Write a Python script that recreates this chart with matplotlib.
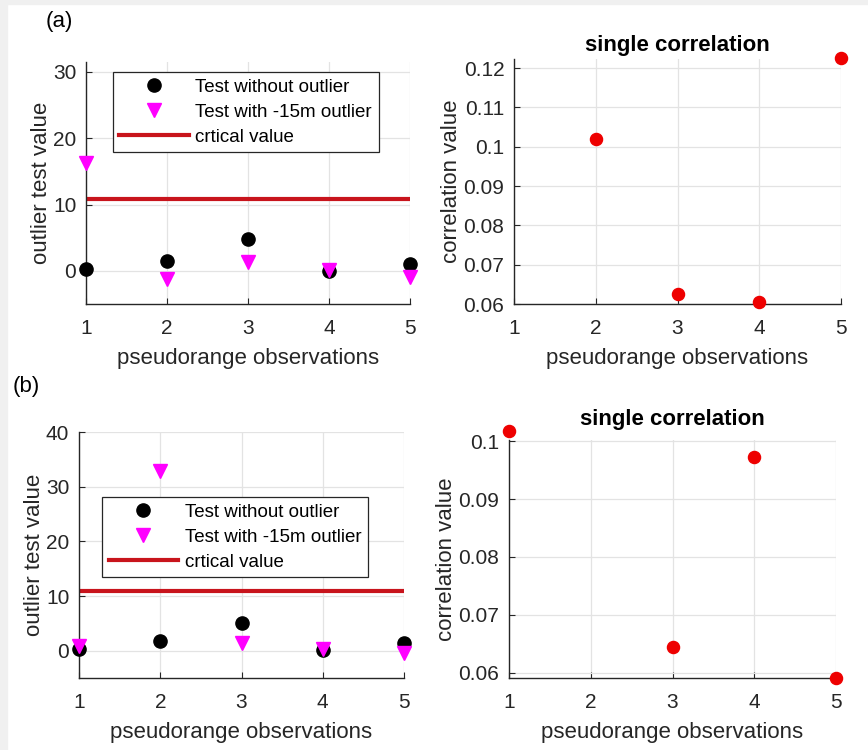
import matplotlib.pyplot as plt
from matplotlib.patches import Rectangle
from matplotlib.ticker import FormatStrFormatter
import numpy as np

plt.rcParams['font.family'] = ['Liberation Sans', 'DejaVu Sans']

obs = [1, 2, 3, 4, 5]

# panel (a)
a_without = [0.3, 1.5, 4.8, 0.0, 1.0]
a_with = [16.3, -1.2, 1.3, 0.1, -0.9]
a_crit = 10.8
a_corr_x = [2, 3, 4, 5]
a_corr = [0.102, 0.0625, 0.0606, 0.1225]

# panel (b)
b_without = [0.3, 1.8, 5.0, 0.1, 1.4]
b_with = [0.8, 32.9, 1.4, 0.3, -0.5]
b_crit = 10.9
b_corr_x = [1, 3, 4, 5]
b_corr = [0.1017, 0.0645, 0.0972, 0.0591]

W, H = 868, 750
fig = plt.figure(figsize=(W / 100, H / 100), dpi=100)
fig.patch.set_facecolor('white')
# grey strips left and top like the screenshot
fig.patches.append(Rectangle((0, 0), 7 / W, 1, transform=fig.transFigure,
                             color='#f0f0f0', zorder=0))
fig.patches.append(Rectangle((0, 1 - 4 / H), 1, 4 / H, transform=fig.transFigure,
                             color='#f0f0f0', zorder=0))

txt_col = '#262626'


def px_axes(x0, x1, y0, y1):
    return fig.add_axes([x0 / W, 1 - y1 / H, (x1 - x0) / W, (y1 - y0) / H])


def style(ax):
    ax.set_xlim(1, 5)
    ax.set_xticks(obs)
    ax.grid(True, color='#e3e3e3', linewidth=0.9)
    ax.set_axisbelow(True)
    for s in ['top', 'right']:
        ax.spines[s].set_visible(False)
    for s in ['left', 'bottom']:
        ax.spines[s].set_color(txt_col)
        ax.spines[s].set_linewidth(1.0)
    ax.tick_params(direction='in', length=4, width=0.8, colors=txt_col,
                   labelsize=15)
    ax.tick_params(axis='x', pad=11)
    ax.tick_params(axis='y', pad=7)
    ax.set_xlabel('pseudorange observations', fontsize=16, color=txt_col,
                  labelpad=7)


def outlier_panel(ax, wo, wi, crit, ylim, yticks, anchor):
    style(ax)
    ax.plot(obs, wo, 'o', color='black', markersize=9.5, label='Test without outlier',
            clip_on=False, zorder=3)
    ax.plot(obs, wi, 'v', color='#ff00ff', markersize=9.5,
            label='Test with -15m outlier', clip_on=False, zorder=4)
    ax.axhline(crit, color='#c8141c', linewidth=3, label='crtical value', zorder=2)
    ax.set_ylim(*ylim)
    ax.set_yticks(yticks)
    ax.set_ylabel('outlier test value', fontsize=16, color=txt_col, labelpad=1)
    leg = ax.legend(loc='upper left', bbox_to_anchor=anchor, fontsize=13.5,
                    fancybox=False, framealpha=1, edgecolor='#262626',
                    handlelength=3.7, handletextpad=0.35, labelspacing=0.42,
                    borderpad=0.35, borderaxespad=0)
    leg.get_frame().set_linewidth(0.9)


def corr_panel(ax, xs, ys, ylim, yticks, tpad):
    style(ax)
    ax.plot(xs, ys, 'o', color='#ee0000', markersize=8.7, clip_on=False, zorder=3)
    ax.set_ylim(*ylim)
    ax.set_yticks(yticks)
    ax.yaxis.set_major_formatter(FormatStrFormatter('%g'))
    ax.set_ylabel('correlation value', fontsize=16, color=txt_col, labelpad=1)
    ax.set_title('single correlation', fontsize=16, fontweight='bold', pad=tpad)


ax1 = px_axes(86, 410, 62, 304)
outlier_panel(ax1, a_without, a_with, a_crit, (-5, 31.5), [0, 10, 20, 30],
              (0.083, 0.959))

ax2 = px_axes(514, 841, 59, 304)
corr_panel(ax2, a_corr_x, a_corr, (0.06, 0.1223),
           [0.06, 0.07, 0.08, 0.09, 0.1, 0.11, 0.12], 6)

ax3 = px_axes(79, 404, 432, 678)
outlier_panel(ax3, b_without, b_with, b_crit, (-5, 40), [0, 10, 20, 30, 40],
              (0.071, 0.736))

ax4 = px_axes(509, 836, 440, 678)
corr_panel(ax4, b_corr_x, b_corr, (0.0591, 0.1002),
           [0.06, 0.07, 0.08, 0.09, 0.1], 11)

fig.text(59 / W, 1 - 22 / H, '(a)', fontsize=16, color='black',
         ha='center', va='center')
fig.text(26 / W, 1 - 386 / H, '(b)', fontsize=16, color='black',
         ha='center', va='center')

fig.savefig('out.png', dpi=100, facecolor=fig.get_facecolor())
